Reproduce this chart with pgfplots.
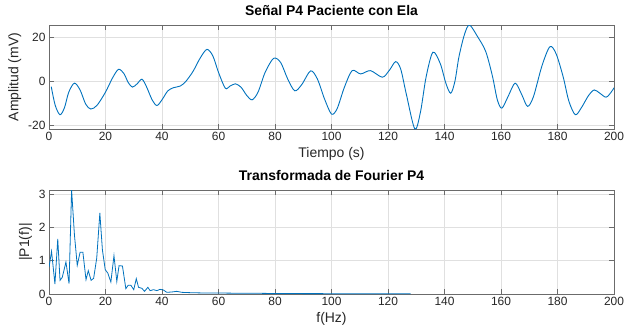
\documentclass[border=0pt]{standalone}
\usepackage{fontspec}
\setmainfont{Liberation Sans}
\usepackage{pgfplots}
\pgfplotsset{compat=1.18}
\definecolor{mblue}{rgb}{0,0.447,0.741}
\definecolor{axgray}{rgb}{0.42,0.42,0.42}
\definecolor{gridgray}{rgb}{0.88,0.88,0.88}
\definecolor{txt}{rgb}{0.15,0.15,0.15}
\pgfplotsset{mstyle/.style={
 width=565bp, height=104bp, scale only axis,
 xmin=0, xmax=200, xtick={0,20,...,200},
 axis line style={axgray, line width=0.6bp},
 tick style={axgray, line width=0.5bp},
 major tick length=5bp,
 tick align=inside,
 grid=major, major grid style={gridgray, line width=0.5bp},
 ticklabel style={font=\fontsize{12}{14}\selectfont, text=txt},
 /pgf/number format/assume math mode=true,
 label style={font=\fontsize{14}{16}\selectfont, text=txt},
 title style={font=\bfseries\fontsize{14}{16}\selectfont},
 every axis plot/.append style={mblue, line width=0.9bp},
}}
\begin{document}
\begin{tikzpicture}
\path[use as bounding box] (-49bp,25bp) rectangle (575bp,-309bp);
\begin{axis}[mstyle, at={(0,0)}, anchor=north west,
  ymin=-21.8, ymax=25.6, ytick={-20,0,20},
  title={Señal P4 Paciente con Ela}, xlabel={Tiempo (s)}, ylabel={Amplitud (mV)}]
\addplot[smooth] coordinates {
(0.8,-2.5) (2.2,-11) (3.9,-15.3) (5.5,-12) (7,-5) (9,-0.9) (11,-4) (13,-10.5)
(14.8,-12.7) (17,-11) (20,-5) (22.5,1.5) (24.6,5.4) (26.5,3.5) (28,-0.5) (29.5,-2.7)
(31.2,-1.2) (32.9,0.9) (34.5,-2.5) (36.5,-8.5) (38.2,-11.1) (40,-8.5) (42,-4.5)
(44,-3.0) (46.5,-2.2) (48.5,0) (51,4.5) (53.5,10.5) (55.9,14.5) (58,11.5) (60,4)
(62.4,-3.2) (64,-2.3) (66,-1.2) (68,-2.8) (70,-6.5) (71.9,-8.5) (74,-5) (76.5,4)
(79.5,10.4) (82,8.5) (84.5,1) (87,-4.4) (89.5,-1.5) (92.6,4.7) (95,1) (97.5,-8)
(100,-15) (102,-12.5) (104.5,-3) (107.3,4.8) (110.3,3.3) (113.8,4.8) (118,1.8)
(120.5,5) (122.7,8.9) (124.5,5.5) (126.5,-6) (129.5,-21.8) (131.5,-14) (133.5,2)
(135.9,13.2) (138.5,8) (140.5,-1) (142.2,-5.5) (143.7,0) (145.1,11) (147,21)
(148.8,25.6) (151.7,20.3) (154.6,13.5) (157,2.1) (158.7,-8.5) (160.3,-12.3)
(162.5,-7) (165,-0.9) (167.3,-6) (169.4,-11.5) (171.5,-7) (174.5,7) (177.3,15.7)
(179.5,12.5) (182,2) (184,-9) (186.3,-15.3) (188.5,-12) (191,-6.5) (193,-4)
(195,-5.5) (197.2,-7.3) (199,-5) (200,-3)
};
\end{axis}
\begin{axis}[mstyle, at={(0,-165bp)}, anchor=north west,
  ymin=0, ymax=3.12, ytick={0,1,2,3},
  title={Transformada de Fourier P4}, xlabel={f(Hz)}, ylabel={|P1(f)|}]
\addplot[sharp plot, line width=0.8bp] coordinates {
(0,0.8) (0.9,1.28) (2.1,0.3) (3.1,1.65) (3.9,0.41) (4.7,0.5) (6,0.96) (7.1,0.31)
(8,3.12) (9,1.78) (10,0.86) (11,1.25) (12,1.25) (13.1,0.43) (13.9,0.7) (14.9,0.41)
(15.8,0.47) (16.9,1.08) (18,2.43) (18.9,1.33) (19.9,0.73) (20.8,0.63) (21.9,0.36)
(23,1.15) (24,0.38) (24.8,0.85) (26,0.84) (27.2,0.16) (28,0.26) (29,0.26) (30,0.13)
(30.9,0.46) (31.7,0.2) (32.9,0.17) (33.8,0.08) (35,0.2) (35.8,0.1) (37,0.13)
(38.2,0.1) (39.3,0.14) (40.5,0.12) (41.7,0.05) (43.4,0.06) (45.2,0.08) (47,0.05)
(50,0.04) (55,0.03) (60,0.03) (65,0.025) (70,0.02) (75,0.02) (80,0.015) (90,0.012)
(100,0.01) (110,0.01) (120,0.008) (128,0.005)
};
\end{axis}
\end{tikzpicture}
\end{document}
